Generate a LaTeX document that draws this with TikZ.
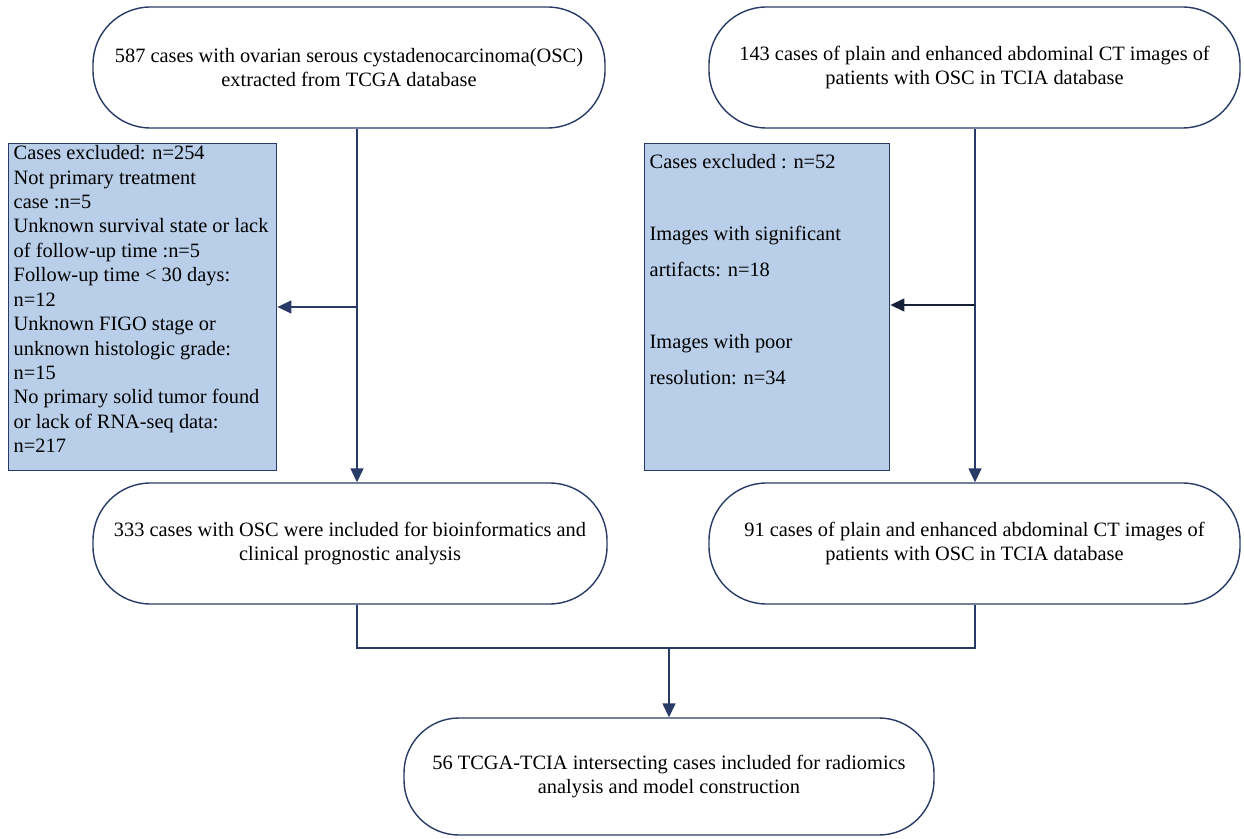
\documentclass[tikz,border=0pt]{standalone}
\usepackage{fontspec}
\setmainfont{Liberation Serif}
\usetikzlibrary{arrows.meta,calc}
\definecolor{navy}{RGB}{40,58,102}
\definecolor{exfill}{RGB}{185,206,232}
\newcommand{\fs}{\fontsize{11.6pt}{13.5pt}\selectfont}
\tikzset{
  >={Triangle[length=2.8mm,width=2.6mm]},
  rb/.style={draw=navy,rounded corners=1.15cm,minimum height=2.42cm,align=center,font=\fs},
  ex/.style={draw=navy,fill=exfill,inner xsep=0.1cm,inner ysep=0pt,anchor=north west},
  ln/.style={draw=navy,fill=navy},
  every picture/.style={line width=0.8pt},
}

\begin{document}
\begin{tikzpicture}
\useasboundingbox (0,0) rectangle (24.88,-16.78);
\node[rb,minimum width=10.24cm] (tcga) at (6.98,-1.35){587 cases with ovarian serous cystadenocarcinoma(OSC)\\ extracted from TCGA database};
\node[rb,minimum width=10.62cm] (tcia) at (19.49,-1.35){143 cases of plain and enhanced abdominal CT images of\\ patients with OSC in TCIA database};
\node[ex] (exA) at (0.16,-2.86){\parbox[c][6.54cm][t]{5.16cm}{\raggedright\fontsize{11.6pt}{13.9pt}\selectfont\vspace*{1pt}
Cases excluded: n=254\\ Not primary treatment\\ case :n=5\\ Unknown survival state or lack\\ of follow-up time :n=5\\ Follow-up time < 30 days:\\ n=12\\ Unknown FIGO stage or\\ unknown histologic grade:\\ n=15\\ No primary solid tumor found\\ or lack of RNA-seq data:\\ n=217}};
\node[ex] (exB) at (12.88,-2.86){\parbox[c][6.54cm][t]{4.7cm}{\raggedright\fontsize{11.6pt}{20.5pt}\selectfont\vspace*{6pt}
Cases excluded : n=52\\ \mbox{}\\ Images with significant\\ artifacts: n=18\\ \mbox{}\\ Images with poor\\ resolution: n=34}};
\node[rb,minimum width=10.28cm] (osc) at (7.0,-10.87){333 cases with OSC were included for bioinformatics and\\ clinical prognostic analysis};
\node[rb,minimum width=10.62cm] (ct) at (19.49,-10.87){91 cases of plain and enhanced abdominal CT images of\\ patients with OSC in TCIA database};
\node[rb,minimum width=10.6cm,minimum height=2.34cm,rounded corners=1.1cm] (fin) at (13.38,-15.53){56 TCGA-TCIA intersecting cases included for radiomics\\ analysis and model construction};
\coordinate (sA) at (7.14,-6.14); \coordinate (sB) at (19.5,-6.1);
\coordinate (jn) at (7.14,-12.96);
% exclusions
\draw[->,navy] (tcga.south -| sA)--(osc.north -| sA); \draw[->,navy] (sA)--(sA -| exA.east);
\draw[->,navy] (tcia.south -| sB)--(ct.north -| sB); \draw[->,navy!55!black] (sB)--(sB -| exB.east);
% merge
\draw[navy] (osc.south -| jn)--(jn)--(jn -| sB)--(ct.south -| sB);
\draw[->,navy] (jn -| fin.north)--(fin.north);
\end{tikzpicture}
\end{document}
